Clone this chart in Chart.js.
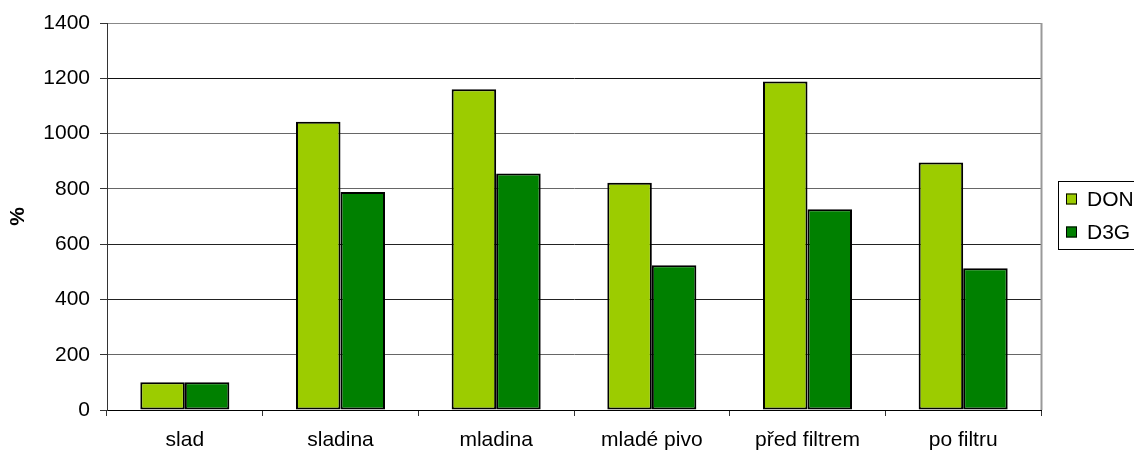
<!DOCTYPE html>
<html>
<head>
<meta charset="utf-8">
<script src="https://cdn.jsdelivr.net/npm/chart.js@4/dist/chart.umd.min.js"></script>
<style>
  html, body { margin: 0; padding: 0; background: #fff; }
  #wrap { width: 1134px; height: 452px; position: relative; }
</style>
</head>
<body>
<div id="wrap"><canvas id="c" width="1134" height="452"></canvas></div>
<script>
// Sample stages and relative mycotoxin contents (%)
const categories = ['slad', 'sladina', 'mladina', 'mladé pivo', 'před filtrem', 'po filtru'];
const donValues = [100, 1043, 1160, 822, 1188, 895];
const d3gValues = [100, 789, 856, 524, 726, 513];
const seriesNames = ['DON', 'D3G'];
const yTicks = [0, 200, 400, 600, 800, 1000, 1200, 1400];

const FONT = 'Liberation Sans, Arial, sans-serif';
const FONT_SIZE = 21;
const gridShade = { 0: '#000', 200: '#666', 400: '#222', 600: '#222', 800: '#666', 1000: '#666', 1200: '#111', 1400: '#888' };

// Boxed legend on the right plus the right-hand frame line of the plot
const frameAndLegend = {
  id: 'frameAndLegend',
  afterDraw(chart) {
    const ctx = chart.ctx;
    const a = chart.chartArea;
    ctx.save();
    ctx.strokeStyle = '#999';
    ctx.lineWidth = 2;
    ctx.beginPath();
    ctx.moveTo(a.right + 0.5, a.top);
    ctx.lineTo(a.right + 0.5, a.bottom);
    ctx.stroke();

    const bx = 1058.5, by = 181.5, bh = 68;
    ctx.strokeStyle = '#000';
    ctx.lineWidth = 1;
    ctx.strokeRect(bx, by, 200, bh);
    ctx.font = FONT_SIZE + 'px ' + FONT;
    ctx.textBaseline = 'middle';
    chart.data.datasets.forEach((ds, i) => {
      const cy = 199 + i * 33;
      ctx.fillStyle = ds.backgroundColor;
      ctx.fillRect(1066, cy - 5.5, 11, 11);
      ctx.strokeStyle = '#000';
      ctx.strokeRect(1066.5, cy - 5, 10, 10);
      ctx.fillStyle = '#000';
      ctx.fillText(ds.label, 1087, cy + 1);
    });
    ctx.restore();
  }
};

new Chart(document.getElementById('c'), {
  type: 'bar',
  data: {
    labels: categories,
    datasets: [
      { label: seriesNames[0], data: donValues, backgroundColor: '#9ccc00', borderColor: '#000', borderWidth: 2, borderSkipped: false },
      { label: seriesNames[1], data: d3gValues, backgroundColor: '#008000', borderColor: '#000', borderWidth: 2, borderSkipped: false }
    ]
  },
  options: {
    responsive: false,
    animation: false,
    devicePixelRatio: 1,
    layout: { padding: { top: 23, right: 93, left: 0, bottom: 0 } },
    datasets: { bar: { categoryPercentage: 0.572, barPercentage: 1.0 } },
    plugins: { legend: { display: false }, tooltip: { enabled: false } },
    scales: {
      x: {
        offset: true,
        grid: { display: true, drawOnChartArea: false, drawTicks: true, tickLength: 6, offset: true, color: '#333' },
        border: { color: '#000', width: 1 },
        ticks: { color: '#000', font: { family: FONT, size: FONT_SIZE }, padding: 12, maxRotation: 0 },
        afterFit(s) { s.height = 42; }
      },
      y: {
        min: 0, max: 1400,
        afterBuildTicks(s) { s.ticks = yTicks.map(v => ({ value: v })); },
        grid: {
          color: c => gridShade[c.tick && c.tick.value] || '#555',
          tickColor: '#333',
          tickLength: 7,
          lineWidth: 1
        },
        border: { color: '#333', width: 1 },
        ticks: { color: '#000', font: { family: FONT, size: FONT_SIZE }, padding: 10, callback: v => String(v) },
        title: { display: true, text: '%', color: '#000', font: { family: FONT, size: FONT_SIZE, weight: 'bold' }, padding: { top: 6, bottom: 4 } },
        afterFit(s) { s.width = 107; }
      }
    }
  },
  plugins: [frameAndLegend]
});
</script>
</body>
</html>
